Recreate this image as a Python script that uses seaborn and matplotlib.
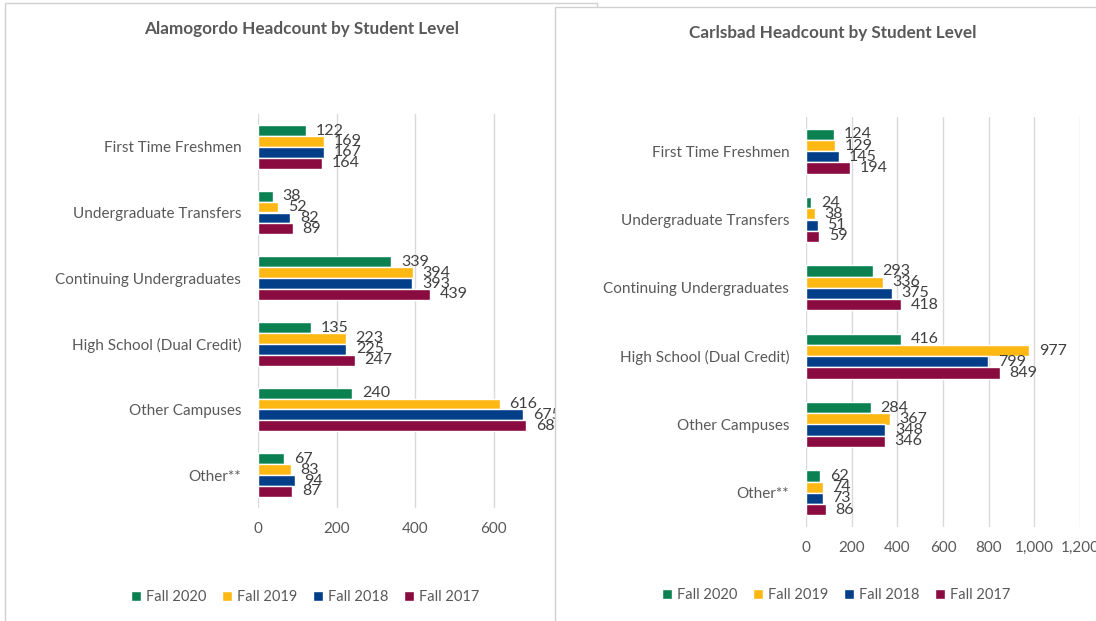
import matplotlib
matplotlib.use('Agg')
import matplotlib.pyplot as plt
import matplotlib.patches as mpatches
import pandas as pd
import seaborn as sns

levels = ['First Time Freshmen', 'Undergraduate Transfers', 'Continuing Undergraduates',
          'High School (Dual Credit)', 'Other Campuses', 'Other**']
terms = ['Fall 2020', 'Fall 2019', 'Fall 2018', 'Fall 2017']

alamogordo_2020 = [122, 38, 339, 135, 240, 67]
alamogordo_2019 = [169, 52, 394, 223, 616, 83]
alamogordo_2018 = [167, 82, 393, 225, 675, 94]
alamogordo_2017 = [164, 89, 439, 247, 684, 87]

carlsbad_2020 = [124, 24, 293, 416, 284, 62]
carlsbad_2019 = [129, 38, 336, 977, 367, 74]
carlsbad_2018 = [145, 51, 375, 799, 348, 73]
carlsbad_2017 = [194, 59, 418, 849, 346, 86]

colors = ['#0B8152', '#FDB813', '#023F88', '#8A0B40']
text_gray = '#595959'


def to_frame(series):
    rows = []
    for term, vals in zip(terms, series):
        for lvl, v in zip(levels, vals):
            rows.append({'level': lvl, 'term': term, 'count': v})
    return pd.DataFrame(rows)


def draw_panel(ax, df, xmax, step, title, title_xy, legend_xy):
    sns.barplot(data=df, y='level', x='count', hue='term', order=levels, hue_order=terms,
                palette=colors, orient='h', width=0.66, saturation=1, errorbar=None, ax=ax)
    ax.set_xlim(0, xmax)
    ax.set_xticks(range(0, xmax + 1, step))
    ax.xaxis.set_major_formatter(matplotlib.ticker.FuncFormatter(lambda v, p: f'{int(v):,}'))
    ax.set_xlabel('')
    ax.set_ylabel('')
    for s in ax.spines.values():
        s.set_visible(False)
    ax.grid(axis='x', color='#D9D9D9', linewidth=1)
    ax.grid(axis='y', visible=False)
    ax.set_axisbelow(True)
    ax.tick_params(axis='both', length=0, labelsize=11, labelcolor=text_gray)
    ax.tick_params(axis='x', pad=10)
    ax.tick_params(axis='y', pad=12)
    for c in ax.containers:
        ax.bar_label(c, padding=7, fontsize=11.5, color='#404040', clip_on=False)
    handles, labels = ax.get_legend_handles_labels()
    ax.legend(handles, labels, loc='center', bbox_to_anchor=legend_xy,
              bbox_transform=ax.figure.transFigure, ncol=4, frameon=False,
              handlelength=0.7, handleheight=0.7, handletextpad=0.3,
              columnspacing=1.1, fontsize=10.5, labelcolor=text_gray)
    ax.figure.text(title_xy[0], title_xy[1], title, ha='center', va='center',
                   fontsize=12.3, fontweight='bold', color=text_gray)


sns.set_theme(style='white')
plt.rcParams['font.family'] = ['Lato', 'DejaVu Sans']

W, H = 1096, 621
fig = plt.figure(figsize=(W / 100, H / 100), dpi=100)
fig.patch.set_facecolor('white')

# panel frames: left one sits behind the right one
left_frame = mpatches.Rectangle((5 / W, -0.1), (597 - 5) / W, 1.1 - 3 / H, transform=fig.transFigure,
                                facecolor='white', edgecolor='#D0D0D0', linewidth=1, zorder=0.5)
right_frame = mpatches.Rectangle((555 / W, -0.1), 1.0, 1.1 - 7 / H, transform=fig.transFigure,
                                 facecolor='white', edgecolor='#D0D0D0', linewidth=1, zorder=1.5)
fig.patches.extend([left_frame, right_frame])

ax1 = fig.add_axes([258 / W, 1 - 508 / H, (572 - 258) / W, (508 - 114) / H])
ax1.set_zorder(1)
ax1.patch.set_alpha(0)
ax2 = fig.add_axes([806 / W, 1 - 527 / H, (1080 - 806) / W, (527 - 117) / H])
ax2.set_zorder(2)
ax2.patch.set_alpha(0)

draw_panel(ax1, to_frame([alamogordo_2020, alamogordo_2019, alamogordo_2018, alamogordo_2017]),
           800, 200, 'Alamogordo Headcount by Student Level', (302 / W, 1 - 29 / H), (305 / W, 1 - 597 / H))
draw_panel(ax2, to_frame([carlsbad_2020, carlsbad_2019, carlsbad_2018, carlsbad_2017]),
           1200, 200, 'Carlsbad Headcount by Student Level', (833 / W, 1 - 33 / H), (836 / W, 1 - 595 / H))

for t in fig.texts:
    t.set_zorder(3)

fig.savefig('out.png', dpi=100)
